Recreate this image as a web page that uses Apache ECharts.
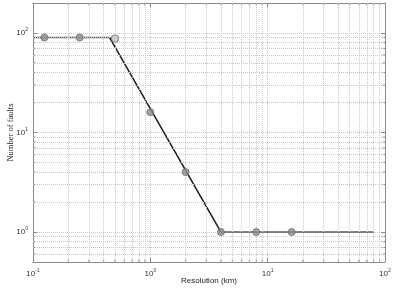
<!DOCTYPE html>
<html><head><meta charset="utf-8">
<script src="https://cdn.jsdelivr.net/npm/echarts@6/dist/echarts.min.js"></script>
<style>html,body{margin:0;padding:0;background:#fff}#c{width:394px;height:288px}</style>
</head><body><div id="c"></div>
<script>
// Data
const resolutionKm = [0.125, 0.25, 0.5, 1, 2, 4, 8, 16];
const numberOfFaults = [90, 90, 88, 16, 4, 1, 1, 1];
const fitX = [0.1, 0.45, 4, 80];
const fitY = [90, 90, 1, 1];
const xMajorTicks = [0.1, 1, 10, 100];
const yMajorTicks = [1, 10, 100];
const xRange = [0.1, 100];
const yRange = [0.5, 200];

// minor positions (2..9 x 10^k) inside range
function minors(range) {
  const out = [];
  for (let e = -3; e <= 3; e++) for (let m = 2; m <= 9; m++) {
    const v = +(m * Math.pow(10, e)).toPrecision(6);
    if (v > range[0] && v < range[1]) out.push(v);
  }
  return out;
}
const xMinor = minors(xRange), yMinor = minors(yRange);

const gridColor = '#c8c8c8';
const boxColor = '#8a8a8a';
function supLabel(v) {
  const e = Math.round(Math.log10(v));
  return '{b|10}{s|' + e + '}';
}
const rich = {
  b: {fontSize: 8, fontFamily: 'Liberation Sans', color: '#333'},
  s: {fontSize: 5, fontFamily: 'Liberation Sans', color: '#333', padding: [0, 0, 6, 0]}
};

const chart = echarts.init(document.getElementById('c'), null, {renderer: 'canvas'});

const tickStyle = {show: true, inside: true, length: 4, lineStyle: {color: boxColor, width: 1}};
const xAxisBase = {type: 'log', logBase: 10, min: xRange[0], max: xRange[1]};
const yAxisBase = {type: 'log', logBase: 10, min: yRange[0], max: yRange[1]};

// custom series drawing minor ticks on all four sides
function minorTickSeries(dir) {
  const vals = dir === 'x' ? xMinor : yMinor;
  return {
    type: 'custom', silent: true, z: 3,
    data: vals.map(v => dir === 'x' ? [v, yRange[0]] : [xRange[0], v]),
    renderItem: function (params, api) {
      const v = api.value(dir === 'x' ? 0 : 1);
      const a = dir === 'x' ? api.coord([v, yRange[0]]) : api.coord([xRange[0], v]);
      const b = dir === 'x' ? api.coord([v, yRange[1]]) : api.coord([xRange[1], v]);
      const L = 2.5;
      const st = {stroke: boxColor, lineWidth: 1};
      const children = dir === 'x' ? [
        {type: 'line', shape: {x1: a[0], y1: a[1], x2: a[0], y2: a[1] - L}, style: st},
        {type: 'line', shape: {x1: b[0], y1: b[1], x2: b[0], y2: b[1] + L}, style: st}
      ] : [
        {type: 'line', shape: {x1: a[0], y1: a[1], x2: a[0] + L, y2: a[1]}, style: st},
        {type: 'line', shape: {x1: b[0], y1: b[1], x2: b[0] - L, y2: b[1]}, style: st}
      ];
      return {type: 'group', children: children};
    }
  };
}

const option = {
  animation: false,
  backgroundColor: '#fff',
  grid: {left: 33, top: 3, right: 9, bottom: 26, show: false, containLabel: false, outerBoundsMode: 'none'},
  xAxis: [
    Object.assign({}, xAxisBase, {
      position: 'bottom',
      name: 'Resolution (km)', nameLocation: 'middle', nameGap: 15, nameMoveOverlap: false,
      nameTextStyle: {fontSize: 8, fontFamily: 'Liberation Sans', color: '#222'},
      axisLine: {show: true, lineStyle: {color: boxColor, width: 1}},
      axisTick: tickStyle,
      axisLabel: {formatter: supLabel, rich: rich, margin: 6},
      splitLine: {show: true, lineStyle: {color: gridColor, type: [1, 1], width: 1}}
    }),
    Object.assign({}, xAxisBase, {
      position: 'top',
      axisLine: {show: true, lineStyle: {color: boxColor, width: 1}},
      axisTick: tickStyle, axisLabel: {show: false}, splitLine: {show: false}
    })
  ],
  yAxis: [
    Object.assign({}, yAxisBase, {
      position: 'left',
      name: 'Number of faults', nameLocation: 'middle', nameGap: 18, nameMoveOverlap: false,
      nameTextStyle: {fontSize: 8.5, fontFamily: 'Liberation Serif', color: '#222'},
      axisLine: {show: true, lineStyle: {color: boxColor, width: 1}},
      axisTick: tickStyle,
      axisLabel: {formatter: v => (yMajorTicks.includes(Math.round(v * 1000) / 1000) ? supLabel(v) : ''), rich: rich, margin: 5},
      splitLine: {show: true, lineStyle: {color: gridColor, type: [1, 1], width: 1}}
    }),
    Object.assign({}, yAxisBase, {
      position: 'right',
      axisLine: {show: true, lineStyle: {color: boxColor, width: 1}},
      axisTick: tickStyle, axisLabel: {show: false}, splitLine: {show: false}
    })
  ],
  series: [
    {
      type: 'line', silent: true, symbol: 'none', data: [],
      markLine: {
        silent: true, symbol: 'none', label: {show: false}, animation: false,
        lineStyle: {color: gridColor, type: [1, 1], width: 1},
        data: xMinor.map(v => ({xAxis: v})).concat(yMinor.map(v => ({yAxis: v})))
      }
    },
    minorTickSeries('x'),
    minorTickSeries('y'),
    {
      type: 'line', symbol: 'none', z: 4,
      data: [[fitX[0], fitY[0]], [fitX[1], fitY[1]]],
      lineStyle: {color: '#5a5a5a', width: 1.5}
    },
    {
      type: 'line', symbol: 'none', z: 4,
      data: [[fitX[1], fitY[1]], [fitX[2], fitY[2]]],
      lineStyle: {color: '#1a1a1a', width: 1.5}
    },
    {
      type: 'line', symbol: 'none', z: 4,
      data: [[fitX[2], fitY[2]], [fitX[3], fitY[3]]],
      lineStyle: {color: '#5a5a5a', width: 1.5}
    },
    {
      type: 'scatter', z: 5, symbol: 'circle', symbolSize: 7,
      data: resolutionKm.map((x, i) => {
        const d = {value: [x, numberOfFaults[i]]};
        if (x === 0.5) d.itemStyle = {color: '#c4c4c4', borderColor: '#777', borderWidth: 1.2};
        return d;
      }),
      itemStyle: {color: '#8c8c8c', borderColor: '#6e6e6e', borderWidth: 1}
    }
  ]
};
chart.setOption(option);
</script></body></html>
